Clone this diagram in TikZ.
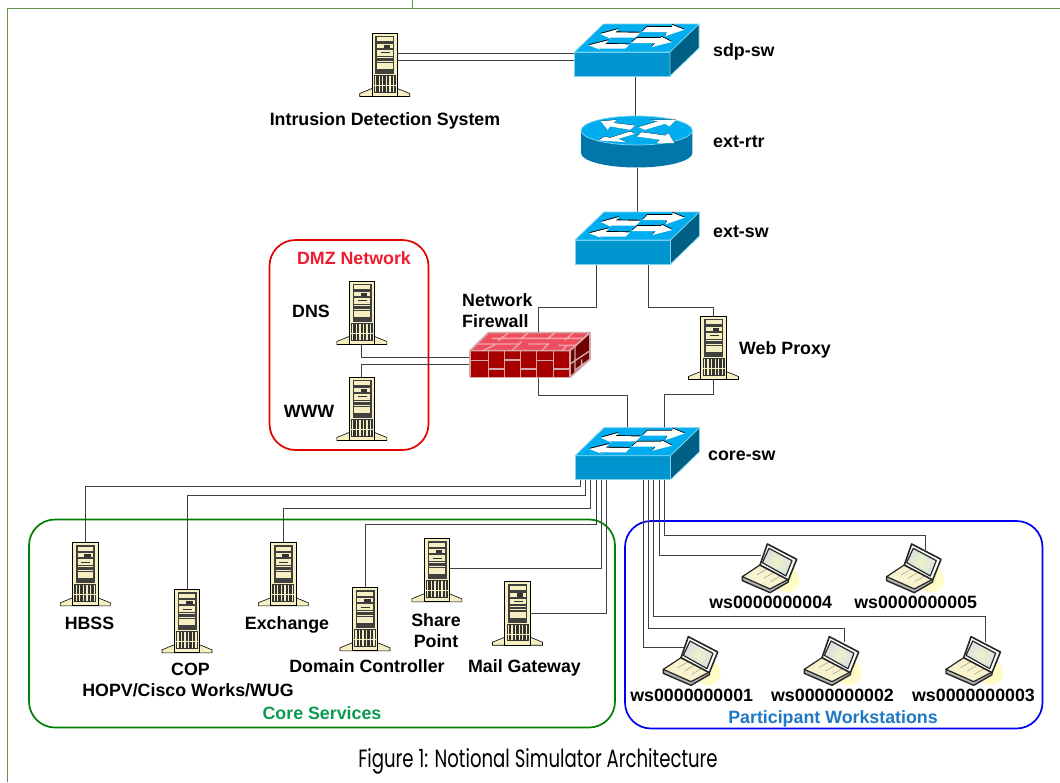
\documentclass[tikz,border=0pt]{standalone}
\usepackage{fontspec}
\setmainfont{Liberation Sans}
\newfontfamily\capfont[FakeStretch=0.725]{Poppins}
\usetikzlibrary{calc}
\definecolor{swtop}{HTML}{00AEEF}
\definecolor{swfront}{HTML}{0095CF}
\definecolor{swside}{HTML}{005F85}
\definecolor{swedge}{HTML}{7FD4F0}
\definecolor{rtside}{HTML}{0077A8}
\definecolor{cream}{HTML}{F6EFC2}
\definecolor{wall}{HTML}{A80000}
\definecolor{walltop}{HTML}{EE4F5E}
\definecolor{wallside}{HTML}{6E0000}
\definecolor{mortar}{HTML}{D2A8A8}
\definecolor{mortartop}{HTML}{F7A0A8}
\definecolor{framegreen}{HTML}{5F9350}
\definecolor{linkc}{HTML}{404040}
\definecolor{scrin}{HTML}{EEF2C8}
\definecolor{scrout}{HTML}{D8E0E0}
\tikzset{
  link/.style={draw=linkc,line width=1pt},
  lbl/.style={font=\fontsize{17.8}{21}\bfseries\selectfont,inner sep=0pt,text=black,align=center},
  iconbox/.style={inner sep=0pt,outer sep=0pt},
  srvbox/.style={iconbox,minimum width=25.4pt,minimum height=63.5pt},
  swbox/.style={iconbox,minimum width=95.5pt,minimum height=24pt},
  grp/.style={line width=1.7pt,rounded corners=26pt},
  server/.pic={
    \begin{scope}[yshift=31.75pt]
    \draw[black,line width=0.6pt,fill=cream,line join=round]
      (-12.7,55.5)--(-25,60.5)--(-25,63.5)--(25,63.5)--(25,60.5)--(12.7,55.5)--cycle;
    \draw[black,line width=0.8pt,fill=cream] (-12.7,0) rectangle (12.7,63.5);
    \fill[black!75] (-9.3,2.7) rectangle (9.7,41);
    \fill[cream] (-7.7,4.3) rectangle (8,8.3);
    \fill[cream] (-7.7,11) rectangle (8,15);
    \fill[black!80] (-1,11.5) rectangle (5.5,15);
    \fill[cream] (-7.7,17) rectangle (8,22.5);
    \fill[black!80] (-4,19.2) rectangle (5,20.2);
    \fill[cream] (-7.7,24) rectangle (8,25);
    \fill[cream] (-7.7,27.5) rectangle (8,28.3);
    \fill[cream] (-7.7,30) rectangle (8,36);
    \fill[black!80] (-11,42) rectangle (11,59.5);
    \foreach \vx in {-9.8,-6.2,-2.6,1,4.6,8.2}{\fill[cream] (\vx,43) rectangle ++(1.3,15.5);}
    \fill[cream] (-11,52) rectangle (11,52.8);
    \end{scope}
  },
  switchicon/.pic={
    % origin: centre of the front face
    \begin{scope}[xshift=-47.75pt,yshift=12pt]
    \draw[swedge,line width=0.7pt,fill=swfront] (0,0) rectangle (95.5,24);
    \draw[swedge,line width=0.7pt,fill=swtop,line join=round] (0,0)--(95.5,0)--(124.5,-28)--(29,-28)--cycle;
    \draw[swedge,line width=0.7pt,fill=swside,line join=round] (95.5,0)--(124.5,-28)--(124.5,-4)--(95.5,24)--cycle;
    \foreach \dy/\col in {-0.9/black,0/white}{
      \begin{scope}[yshift=-\dy pt]
      \fill[\col] (25.7,-18)--(44,-23)--(40.7,-19.7)--(65.7,-19.3)--(60.7,-14.3)--(35,-14.3)--(37.3,-12.7)--cycle;
      \fill[\col] (109.7,-22.3)--(97.3,-27.3)--(97.3,-25)--(72.3,-25)--(67.3,-20)--(92.3,-20)--(90.7,-15.7)--cycle;
      \fill[\col] (14,-6.7)--(34,-11.7)--(30.7,-8)--(55,-7.7)--(50.7,-3.3)--(24,-3.3)--(27.3,-1.7)--cycle;
      \fill[\col] (97.3,-10)--(87.3,-15)--(85.7,-14)--(62.3,-14)--(56.7,-9)--(80.7,-9)--(77.3,-5)--cycle;
      \end{scope}}
    \end{scope}
  },
  routericon/.pic={
    % origin: centre of the top ellipse
    \fill[rtside] (-55.7,0)--(-55.7,22.5) arc[start angle=180,end angle=0,x radius=55.7,y radius=14.5]--(55.7,0)--cycle;
    \draw[swedge,line width=0.7pt,fill=swtop] (0,0) ellipse[x radius=55.7,y radius=14.5];
    \begin{scope}[scale=1/3,shift={(-890,-390)}]
      \foreach \dy/\col in {-2.5/black,0/white}{
      \begin{scope}[yshift=-\dy pt/3]
      \fill[\col] (782,362)--(830,358)--(820,367)--(885,375)--(870,388)--(810,378)--(803,388)--cycle;
      \fill[\col] (1008,358)--(988,378)--(975,370)--(915,388)--(895,380)--(955,362)--(925,358)--cycle;
      \fill[\col] (775,420)--(795,408)--(810,412)--(870,393)--(885,400)--(835,415)--(860,425)--cycle;
      \fill[\col] (1003,428)--(950,428)--(960,418)--(890,408)--(905,395)--(975,405)--(985,398)--cycle;
      \end{scope}}
    \end{scope}
  },
  firewallicon/.pic={
    % origin: centre of the front face; coordinates are those of the crop / 3
    \begin{scope}[scale=1/3,shift={(-180,-132)}]
    \draw[mortar,line width=1.6pt,fill=wall] (30,92) rectangle (330,172);
    \draw[mortar,line width=1.6pt,fill=walltop,line join=round] (30,92)--(330,92)--(390,38)--(85,38)--cycle;
    \draw[mortar,line width=1.6pt,fill=wallside,line join=round] (330,92)--(390,38)--(390,118)--(330,172)--cycle;
    \draw[mortar,line width=1.4pt]
      (85,92)--(85,172) (133,92)--(133,172) (182,92)--(182,172) (230,92)--(230,172) (280,92)--(280,172)
      (30,122)--(85,122) (85,147)--(133,147) (133,120)--(182,120) (182,147)--(230,147)
      (230,122)--(280,122) (280,147)--(330,147);
    \draw[mortartop,line width=1.4pt]
      (50,72)--(110,72)--(68,92) (110,72)--(180,72) (155,92)--(185,65) (205,72)--(265,72)--(245,92)
      (95,55)--(370,55) (145,38)--(115,62) (205,38)--(180,58) (285,38)--(260,58) (340,38)--(315,60)
      (295,76)--(350,76) (305,92)--(322,76);
    \draw[mortar,line width=1.4pt]
      (345,78)--(345,158) (330,132)--(390,92) (365,118)--(365,140) (345,150)--(390,118);
    \end{scope}
  },
  laptopicon/.pic={
    % origin at crop point (390,145), crop coordinates / 3
    \begin{scope}[scale=1/3,shift={(-390,-145)}]
    \fill[yellow!22!white] (440,180) ellipse[x radius=39,y radius=38];
    \draw[black!85,line width=1.4pt,fill=black!30,line join=round] (307,170)--(307,182)--(390,218)--(445,186)--(445,176)--cycle;
    \draw[black!85,line width=1.2pt,fill=cream!80!white,line join=round] (307,170)--(360,135)--(445,178)--(390,207)--cycle;
    \foreach \t in {0.25,0.5,0.75}{\draw[cream!60!black,line width=0.4pt] ($(330,154.5)!\t!(412,195)$) -- ++(42,-24);}
    \draw[black!85,line width=1.6pt,fill=white,line join=round] (360,135)--(382,72)--(470,118)--(445,180)--cycle;
    \draw[black!85,line width=1.2pt,inner color=scrin,outer color=scrout,line join=round] (367,128)--(387,85)--(456,122)--(438,168)--cycle;
    \end{scope}
  },
}
\newcommand{\srv}[3]{\node[srvbox] (#1) at (#2,#3+31.75) {}; \pic at (#1) {server};}
\newcommand{\swt}[3]{\node[swbox] (#1) at (#2+47.75,#3+12) {};}
\newcommand{\lap}[3]{\node[iconbox,minimum width=54pt,minimum height=48pt] (#1) at (#2,#3) {}; \pic at (#1) {laptopicon};}
\begin{document}
\begin{tikzpicture}[x=1pt,y=-1pt]
\useasboundingbox (0,0) rectangle (1060,782);
\fill[white] (0,0) rectangle (1060,782);
% page frame
\draw[framegreen,line width=1.3pt] (7.5,782)--(7.5,8.5)--(1060,8.5) (412.5,0)--(412.5,8.5);

% group boxes
\draw[grp,draw=red!90!black] (269.5,240) rectangle (428.5,450);
\draw[grp,draw=green!50!black] (29,519.5) rectangle (615,727.5);
\draw[grp,draw=blue!95!black] (625,521) rectangle (1042.5,728.5);

% icons' nodes
\srv{ids}{384.7}{33}
\swt{sdpsw}{574.5}{52}
\node[iconbox,minimum width=111.4pt,minimum height=29pt] (extrtr) at (636.7,130.5) {};
\swt{extsw}{575}{240}
\swt{coresw}{575}{455.7}
\node[iconbox,minimum width=100pt,minimum height=26.6pt] (fw) at (520,364) {};
\srv{dns}{361.8}{281}
\srv{www}{361.8}{377}
\srv{proxy}{713.5}{316}
\srv{hbss}{85.3}{542.3}
\srv{cop}{187}{589.3}
\srv{exch}{283.3}{542.3}
\srv{dc}{365}{587.3}
\srv{shp}{436.8}{538.3}
\srv{mail}{517.5}{581.7}
\lap{wsd}{770}{568.3}
\lap{wse}{914.3}{568.3}
\lap{wsa}{691}{661}
\lap{wsb}{832}{661}
\lap{wsc}{973.7}{661}

% connectors
\coordinate (sdpport) at (635.7,76);
\coordinate (rtrtop) at (635.7,116);
\coordinate (rtrbot) at (637.7,168);
\coordinate (extin) at (637.7,212);
\coordinate (extl) at (596,264);
\coordinate (extr) at (648,264);
\coordinate (fwin) at (538.7,333);
\coordinate (fwout) at (538.7,377);
\coordinate (corein) at (627.7,428);
\coordinate (corepr) at (664.3,428);
\coordinate (fwdns) at (470,357.3);
\coordinate (fwwww) at (470,364.3);
\foreach \n/\x in {ca/580.7,cb/585.7,cc/590.7,cd/596,ce/601.3,cf/606.7,wa/643.3,wb/648.3,wc/653.7,wd/659,we/664.3}
  {\coordinate (\n) at (\x,480);}
\coordinate (lida) at (684,647);
\coordinate (lidb) at (844.3,641.7);
\coordinate (lidc) at (985.7,641.7);
\coordinate (lidd) at (760.7,555.7);
\coordinate (lide) at (925.7,550);

\draw[link] (ids.east |- 0,53.8) -- (sdpsw.west |- 0,53.8);
\draw[link] (ids.east |- 0,60.6) -- (sdpsw.west |- 0,60.6);
\draw[link] (sdpport) -- (rtrtop);
\draw[link] (rtrbot) -- (extin);
\draw[link] (extl) |- (0,307 -| fwin) -- (fwin);
\draw[link] (extr) |- (0,307 -| proxy.north) -- (proxy.north);
\draw[link] (fwout) |- (0,395 -| corein) -- (corein);
\draw[link] (proxy.south) |- (0,394.7 -| corepr) -- (corepr);
\draw[link] (dns.south) |- (fwdns);
\draw[link] (www.north) |- (fwwww);
\draw[link] (ca) |- (0,486.7 -| hbss.north) -- (hbss.north);
\draw[link] (cb) |- (0,495.7 -| cop.north) -- (cop.north);
\draw[link] (cc) |- (0,508.3 -| exch.north) -- (exch.north);
\draw[link] (cd) |- (0,524.3 -| dc.north) -- (dc.north);
\draw[link] (ce) |- ([yshift=1.3pt]shp.east);
\draw[link] (cf) |- (mail.east);
\draw[link] (wa) |- (lida);
\draw[link] (wb) |- (0,628.7 -| lidb) -- (lidb);
\draw[link] (wc) |- (0,616.3 -| lidc) -- (lidc);
\draw[link] (wd) |- (lidd);
\draw[link] (we) |- (0,535 -| lide) -- (lide);

% icons
\pic at (sdpsw) {switchicon};
\pic at (extsw) {switchicon};
\pic at (coresw) {switchicon};
\pic at (extrtr) {routericon};
\pic at (fw) {firewallicon};
\node[lbl,anchor=west] (tsdp) at (713,52) {sdp-sw};
\node[lbl,anchor=west] (trtr) at (713,142) {ext-rtr};
\node[lbl,anchor=west] (text) at (713,232) {ext-sw};
\node[lbl,anchor=west] (tcore) at (708,456) {core-sw};
\node[lbl,anchor=west] (tproxy) at (739,350) {Web Proxy};
\node[lbl,align=left,anchor=west] (tfw) at (462,311) {Network\\Firewall};
\node[lbl] (tids) at (385,121) {Intrusion Detection System};
\node[lbl,text={rgb,255:red,237;green,28;blue,46}] (tdmz) at (354,258) {DMZ Network};
\node[lbl] (tdns) at (311,311) {DNS};
\node[lbl] (twww) at (309,411) {WWW};
\node[lbl] (thbss) at (89.5,623) {HBSS};
\node[lbl] (tcop) at (190.5,669) {COP};
\node[lbl] (thopv) at (188,690) {HOPV/Cisco Works/WUG};
\node[lbl] (texch) at (287,625) {Exchange};
\node[lbl] (tdc) at (367,666) {Domain Controller};
\node[lbl] (tshp) at (436,630.5) {Share\\Point};
\node[lbl] (tmail) at (524.5,668) {Mail Gateway};
\node[lbl,text={rgb,255:red,10;green,155;blue,80}] (tcs) at (322,713) {Core Services};
\node[lbl,text={rgb,255:red,30;green,120;blue,195}] (tpw) at (833,719) {Participant Workstations};
\node[lbl] (tws4) at (770.7,602.7) {ws0000000004};
\node[lbl] (tws5) at (915.7,602.7) {ws0000000005};
\node[lbl] (tws1) at (691.7,695) {ws0000000001};
\node[lbl] (tws2) at (832.5,695) {ws0000000002};
\node[lbl] (tws3) at (973.5,695) {ws0000000003};
\node[inner sep=0pt,font=\capfont\fontsize{25}{30}\selectfont,text=black] (tcap) at (538,761) {Figure 1: Notional Simulator Architecture};
\end{tikzpicture}
\end{document}
